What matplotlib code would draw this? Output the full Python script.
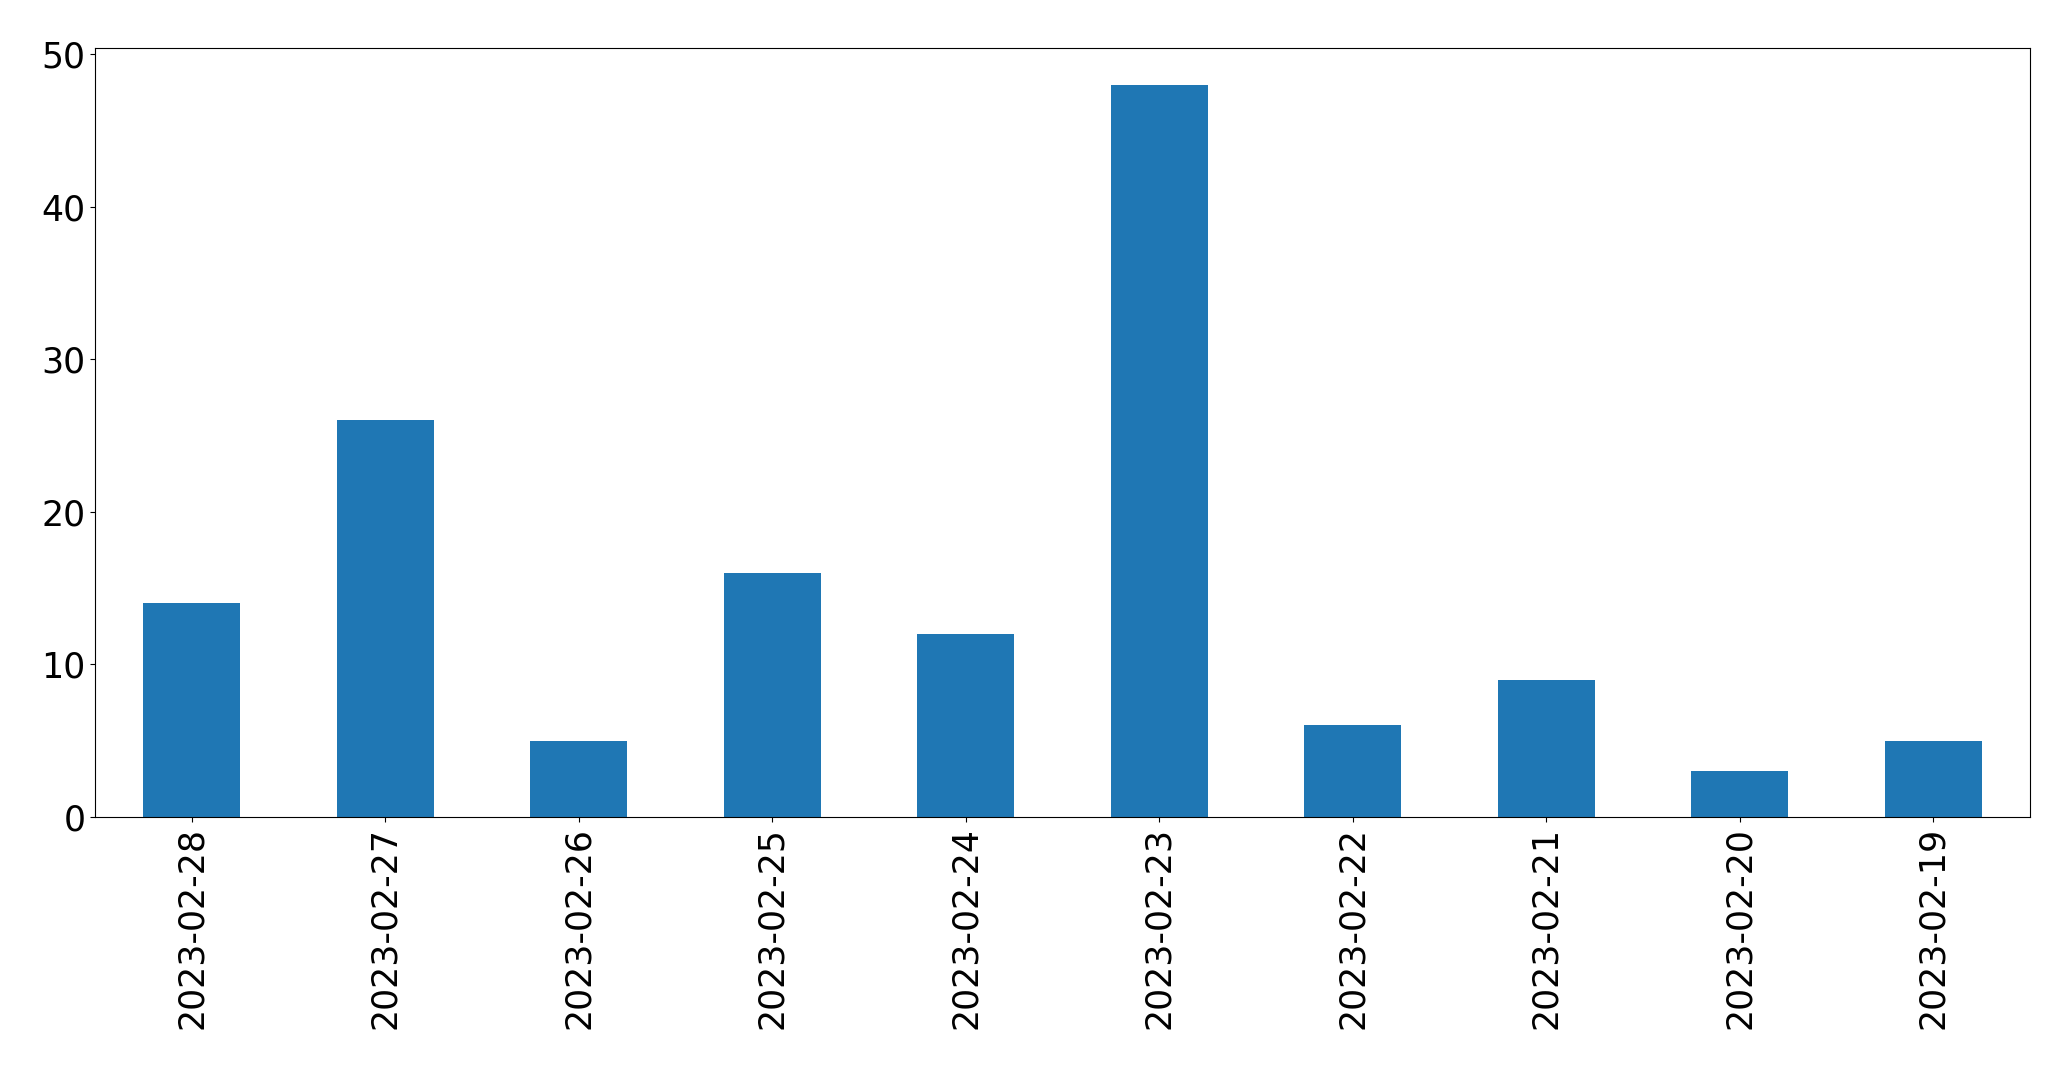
import matplotlib
matplotlib.use("Agg")
import matplotlib.pyplot as plt
import numpy as np

# dates and counts
dates = ["2023-02-28", "2023-02-27", "2023-02-26", "2023-02-25", "2023-02-24",
         "2023-02-23", "2023-02-22", "2023-02-21", "2023-02-20", "2023-02-19"]
counts = [14, 26, 5, 16, 12, 48, 6, 9, 3, 5]

fig = plt.figure(figsize=(20.71, 10.69), dpi=100)
# axes placed to match the reference frame
ax = fig.add_axes([95 / 2071, 1 - 817 / 1069, (2030 - 95) / 2071, (817 - 48) / 1069])

x = np.arange(len(dates))
ax.bar(x, counts, width=0.5, color="#1f77b4")
ax.set_xlim(-0.5, len(dates) - 0.5)
ax.set_ylim(0, max(counts) * 1.05)
ax.set_xticks(x)
ax.set_xticklabels(dates, rotation=90)
ax.tick_params(axis="both", labelsize=25)

fig.savefig("out.png", dpi=100)
